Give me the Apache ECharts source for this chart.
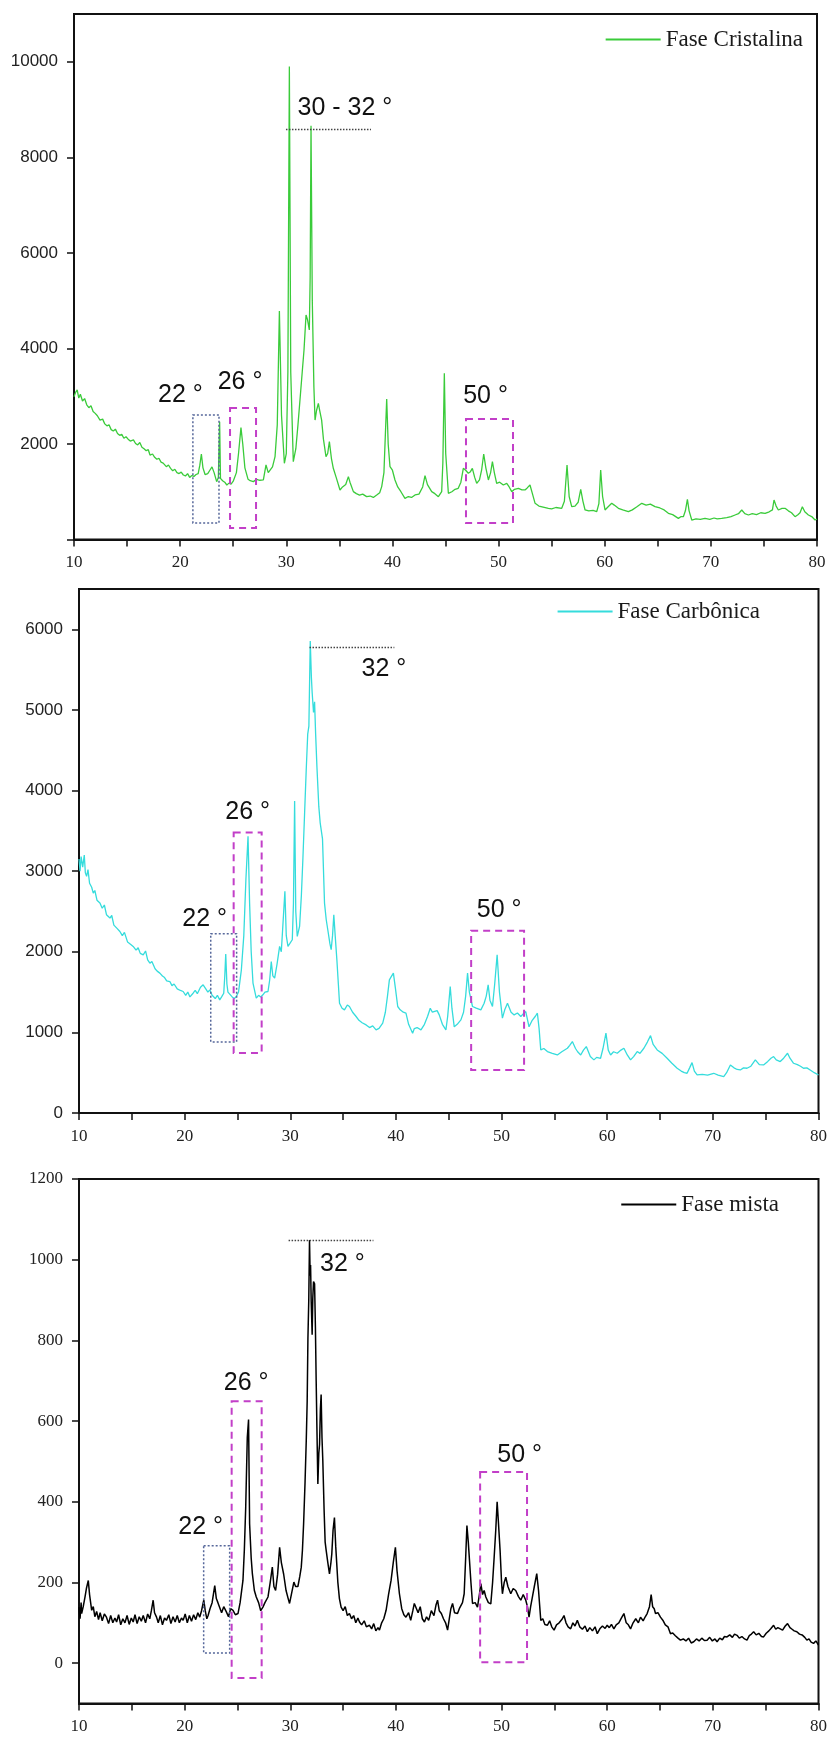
<!DOCTYPE html>
<html><head><meta charset="utf-8">
<script src="https://cdn.jsdelivr.net/npm/echarts@6/dist/echarts.min.js"></script>
<style>html,body{margin:0;padding:0;background:#fff}#c{width:830px;height:1738px}</style>
</head><body><div id="c"></div>
<script>
// ---------- data ----------
const seriesNames = ['Fase Cristalina', 'Fase Carbônica', 'Fase mista'];
const xTickValues = [10, 20, 30, 40, 50, 60, 70, 80];
const yTicks1 = [0, 2000, 4000, 6000, 8000, 10000];
const yLabels1 = [2000, 4000, 6000, 8000, 10000];
const yTicks2 = [0, 1000, 2000, 3000, 4000, 5000, 6000];
const yTicks3 = [0, 200, 400, 600, 800, 1000, 1200];

const cristalina = [
[10.0,2990],[10.15,3080],[10.3,3130],[10.45,2960],[10.6,3040],[10.8,2900],[11.0,2950],[11.2,2820],[11.4,2760],[11.6,2800],
[11.8,2680],[12.0,2640],[12.2,2590],[12.45,2500],[12.7,2520],[12.9,2420],[13.1,2380],[13.3,2400],[13.5,2300],[13.7,2270],
[13.9,2310],[14.1,2220],[14.3,2180],[14.5,2200],[14.7,2120],[14.9,2150],[15.1,2100],[15.3,2060],[15.6,2084],[15.8,2010],
[16.0,1980],[16.2,2030],[16.4,1930],[16.6,1900],[16.8,1860],[17.0,1880],[17.16,1768],[17.4,1790],[17.6,1720],[17.8,1680],
[18.0,1700],[18.2,1620],[18.4,1600],[18.7,1525],[18.9,1560],[19.1,1490],[19.3,1440],[19.5,1470],[19.7,1400],[19.9,1380],
[20.1,1410],[20.3,1350],[20.5,1330],[20.7,1380],[20.9,1300],[21.1,1340],[21.3,1320],[21.5,1360],[21.7,1380],[21.85,1550],
[22.0,1790],[22.15,1500],[22.35,1360],[22.6,1380],[22.8,1450],[23.0,1520],[23.2,1400],[23.44,1211],[23.6,1300],[23.72,2467],
[23.8,1280],[24.0,1230],[24.2,1200],[24.4,1141],[24.6,1180],[24.8,1160],[25.0,1220],[25.3,1400],[25.5,1800],[25.73,2342],
[25.9,2000],[26.1,1500],[26.4,1260],[26.6,1230],[26.9,1211],[27.2,1260],[27.5,1240],[27.84,1246],[28.09,1560],[28.3,1400],
[28.47,1386],[28.7,1520],[28.94,1735],[29.15,2400],[29.35,4785],[29.55,2600],[29.82,1595],[30.0,1800],[30.15,3500],[30.29,9900],
[30.42,3500],[30.66,1630],[30.9,1900],[31.1,2400],[31.29,2921],[31.5,3500],[31.67,3968],[31.86,4701],[32.0,4600],[32.08,4631],
[32.17,4387],[32.25,5500],[32.33,8660],[32.45,5000],[32.6,3200],[32.71,2500],[32.85,2700],[33.02,2851],[33.15,2700],[33.33,2500],
[33.5,2100],[33.74,1735],[33.9,1800],[34.06,2048],[34.25,1700],[34.43,1490],[34.7,1300],[35.06,1037],[35.3,1100],[35.6,1150],
[35.85,1316],[36.0,1200],[36.32,1002],[36.6,960],[36.9,930],[37.2,950],[37.57,897],[37.9,910],[38.2,880],[38.52,932],
[38.8,980],[38.99,1107],[39.2,1400],[39.46,2942],[39.6,2000],[39.77,1525],[40.0,1450],[40.24,1246],[40.5,1100],[40.8,1000],
[41.18,862],[41.5,900],[41.8,880],[42.13,932],[42.5,950],[42.85,1100],[43.07,1337],[43.3,1150],[43.7,1002],[44.0,960],
[44.33,897],[44.64,1002],[44.75,1600],[44.89,3480],[45.02,1800],[45.27,967],[45.6,1000],[45.9,1050],[46.2,1072],[46.45,1200],
[46.68,1490],[46.9,1450],[47.15,1386],[47.35,1420],[47.53,1490],[47.75,1300],[47.94,1176],[48.2,1250],[48.4,1450],[48.6,1790],
[48.8,1500],[49.04,1246],[49.25,1400],[49.42,1630],[49.6,1400],[49.82,1176],[50.1,1200],[50.45,1141],[50.77,1176],[51.0,1100],
[51.24,1002],[51.5,1050],[51.87,1072],[52.2,1040],[52.49,1037],[52.7,1080],[52.96,1141],[53.2,950],[53.44,757],[53.8,700],
[54.2,680],[54.69,652],[55.0,640],[55.4,670],[55.95,652],[56.2,800],[56.45,1560],[56.65,900],[56.89,687],[57.2,700],
[57.5,780],[57.74,1051],[57.95,800],[58.15,618],[58.5,600],[58.9,610],[59.25,583],[59.45,750],[59.62,1455],[59.8,900],
[60.03,618],[60.3,680],[60.66,757],[60.9,720],[61.29,652],[61.7,620],[62.23,583],[62.6,620],[63.0,680],[63.49,757],
[63.9,720],[64.3,740],[64.74,687],[65.2,660],[65.6,620],[66.0,548],[66.4,520],[66.94,443],[67.2,480],[67.41,478],
[67.6,600],[67.79,841],[67.95,600],[68.2,408],[68.6,430],[69.0,420],[69.45,443],[69.9,420],[70.3,450],[70.6,430],
[71.02,443],[71.5,460],[71.9,480],[72.28,513],[72.6,540],[72.91,618],[73.2,540],[73.54,513],[73.9,540],[74.3,520],
[74.7,560],[75.11,548],[75.5,580],[75.8,620],[75.95,827],[76.15,700],[76.36,618],[76.7,650],[76.99,652],[77.3,600],
[77.6,560],[77.93,478],[78.2,520],[78.4,560],[78.62,687],[78.85,580],[79.19,513],[79.5,480],[79.82,408],[80.0,430]
];

const carbonica = [
[10.0,3150],[10.1,3000],[10.2,3180],[10.35,3050],[10.5,3200],[10.6,2980],[10.72,2935],[10.85,3020],[11.0,2850],[11.2,2800],
[11.35,2728],[11.5,2760],[11.7,2640],[11.98,2604],[12.2,2540],[12.4,2580],[12.6,2460],[12.93,2418],[13.1,2450],[13.3,2330],
[13.6,2290],[13.87,2252],[14.1,2200],[14.3,2240],[14.6,2120],[14.9,2090],[15.13,2066],[15.4,2020],[15.6,2050],[15.8,1980],
[16.08,1962],[16.3,2010],[16.5,1900],[16.71,1859],[16.9,1880],[17.2,1790],[17.4,1760],[17.65,1735],[17.9,1700],[18.1,1680],
[18.3,1640],[18.6,1631],[18.8,1580],[19.0,1600],[19.3,1540],[19.6,1520],[19.86,1507],[20.1,1460],[20.3,1500],[20.5,1440],
[20.8,1486],[21.0,1520],[21.2,1480],[21.5,1560],[21.75,1590],[22.0,1540],[22.2,1500],[22.38,1528],[22.6,1460],[22.9,1420],
[23.1,1460],[23.32,1403],[23.5,1440],[23.7,1486],[23.8,1700],[23.89,1971],[24.0,1600],[24.1,1500],[24.27,1486],[24.5,1440],
[24.7,1420],[24.9,1445],[25.1,1500],[25.37,1776],[25.6,2200],[25.8,2900],[26.0,3432],[26.15,2600],[26.3,2000],[26.47,1610],
[26.78,1424],[27.0,1460],[27.2,1440],[27.41,1466],[27.6,1500],[27.89,1507],[28.05,1650],[28.2,1879],[28.35,1700],[28.52,1672],
[28.75,1850],[28.99,2066],[29.15,2000],[29.3,2024],[29.49,2749],[29.62,2200],[29.78,2066],[29.95,2100],[30.19,2149],[30.3,2600],
[30.41,3870],[30.52,2500],[30.66,2190],[30.88,2314],[31.05,2700],[31.19,3142],[31.35,3700],[31.51,4260],[31.65,4700],[31.76,4800],
[31.89,5854],[32.0,5400],[32.07,5216],[32.2,4968],[32.3,5100],[32.4,4700],[32.52,4300],[32.7,3800],[32.83,3600],[32.92,3618],
[33.05,3400],[33.24,2604],[33.4,2400],[33.55,2273],[33.75,2100],[33.87,2026],[34.0,2200],[34.12,2459],[34.25,2200],[34.41,1900],
[34.55,1600],[34.66,1362],[34.9,1300],[35.13,1279],[35.4,1340],[35.6,1321],[35.9,1250],[36.23,1197],[36.5,1150],[36.8,1120],
[37.18,1093],[37.5,1060],[37.8,1080],[38.12,1031],[38.4,1050],[38.75,1114],[39.0,1250],[39.2,1450],[39.38,1652],[39.6,1700],
[39.76,1735],[39.95,1550],[40.17,1321],[40.4,1280],[40.7,1250],[40.95,1238],[41.2,1100],[41.58,990],[41.74,1048],[42.0,1060],
[42.37,1031],[42.7,1100],[43.0,1200],[43.25,1300],[43.45,1250],[43.63,1238],[43.9,1270],[44.1,1217],[44.4,1100],[44.73,1031],
[44.9,1200],[45.14,1569],[45.3,1300],[45.52,1069],[45.8,1100],[46.15,1155],[46.4,1250],[46.6,1450],[46.78,1735],[46.95,1500],
[47.25,1321],[47.6,1300],[48.04,1279],[48.35,1362],[48.55,1450],[48.73,1590],[48.9,1400],[49.14,1321],[49.35,1600],[49.58,1962],
[49.8,1500],[50.08,1176],[50.3,1280],[50.56,1362],[50.9,1250],[51.19,1217],[51.5,1240],[51.82,1197],[52.05,1230],[52.29,1258],
[52.6,1069],[52.9,1150],[53.2,1200],[53.39,1238],[53.55,1050],[53.71,782],[54.0,800],[54.34,762],[54.8,740],[55.28,720],
[55.7,760],[56.23,803],[56.45,840],[56.7,886],[57.0,800],[57.2,760],[57.49,720],[57.75,780],[58.02,824],[58.4,700],
[58.74,659],[59.0,690],[59.37,679],[59.6,800],[59.88,990],[60.1,780],[60.32,720],[60.6,760],[60.95,741],[61.3,780],
[61.58,803],[61.9,720],[62.21,659],[62.5,700],[62.84,762],[63.1,740],[63.47,803],[63.8,880],[64.1,960],[64.35,850],
[64.73,782],[65.2,740],[65.67,679],[66.1,620],[66.62,555],[67.0,520],[67.3,500],[67.56,493],[67.8,560],[68.03,625],
[68.25,520],[68.51,472],[69.0,480],[69.5,470],[70.08,493],[70.5,470],[71.03,451],[71.3,500],[71.66,596],[72.0,560],
[72.3,540],[72.6,534],[72.9,560],[73.23,555],[73.6,580],[74.02,659],[74.4,600],[74.8,596],[75.2,640],[75.5,680],
[75.75,700],[76.0,660],[76.38,638],[76.7,680],[77.07,741],[77.3,680],[77.64,617],[78.0,600],[78.3,580],[78.58,555],
[78.9,560],[79.21,534],[79.6,500],[80.0,472]
];

const mista = [
[10.0,139],[10.1,110],[10.2,150],[10.25,123],[10.4,140],[10.57,164],[10.7,185],[10.88,205],[11.0,170],[11.2,131],
[11.35,140],[11.5,115],[11.67,128],[11.85,108],[12.0,125],[12.2,105],[12.4,122],[12.6,114],[12.8,98],[13.0,118],
[13.2,100],[13.4,112],[13.56,102],[13.75,120],[13.95,95],[14.15,110],[14.35,100],[14.55,118],[14.75,96],[14.95,112],
[15.13,102],[15.3,120],[15.5,98],[15.7,115],[15.9,104],[16.08,118],[16.3,100],[16.5,122],[16.7,110],[16.85,130],
[17.02,156],[17.15,125],[17.34,114],[17.5,100],[17.7,118],[17.9,95],[18.1,112],[18.28,106],[18.5,120],[18.7,98],
[18.9,115],[19.1,102],[19.3,118],[19.5,100],[19.7,112],[19.86,106],[20.05,122],[20.25,100],[20.45,118],[20.65,104],
[20.85,120],[21.05,108],[21.25,125],[21.43,114],[21.6,130],[21.81,156],[21.95,130],[22.1,110],[22.22,118],[22.4,135],
[22.6,150],[22.85,192],[23.0,160],[23.15,150],[23.32,148],[23.5,125],[23.7,140],[23.95,127],[24.15,115],[24.35,135],
[24.58,131],[24.8,120],[25.05,123],[25.25,150],[25.52,205],[25.65,280],[25.78,386],[25.93,559],[26.05,604],[26.15,345],
[26.3,260],[26.41,222],[26.6,180],[26.78,164],[27.0,150],[27.2,130],[27.41,139],[27.6,150],[27.89,164],[28.1,200],
[28.3,238],[28.45,190],[28.61,180],[28.8,220],[28.99,287],[29.15,250],[29.37,221],[29.6,180],[29.8,160],[29.93,148],
[30.1,170],[30.34,201],[30.5,190],[30.72,190],[30.9,215],[31.04,238],[31.15,280],[31.26,345],[31.4,450],[31.51,550],
[31.6,650],[31.67,806],[31.75,900],[31.82,1049],[31.88,960],[31.92,987],[31.98,896],[32.07,814],[32.13,904],[32.2,946],
[32.3,940],[32.38,830],[32.45,700],[32.52,584],[32.61,444],[32.7,520],[32.77,542],[32.85,630],[32.92,666],[33.0,560],
[33.08,501],[33.2,380],[33.3,300],[33.4,279],[33.55,250],[33.71,221],[33.85,250],[33.93,271],[34.05,330],[34.18,361],
[34.3,290],[34.5,201],[34.65,160],[34.81,139],[35.0,130],[35.2,140],[35.4,118],[35.6,123],[35.8,110],[36.0,118],
[36.2,100],[36.4,112],[36.55,102],[36.75,95],[37.0,105],[37.2,90],[37.49,94],[37.7,85],[37.9,98],[38.1,80],
[38.3,88],[38.44,82],[38.65,100],[38.85,110],[39.07,131],[39.3,170],[39.54,205],[39.75,250],[39.95,287],[40.1,230],
[40.33,172],[40.55,135],[40.75,120],[40.95,114],[41.2,125],[41.4,106],[41.6,130],[41.74,148],[41.9,152],[42.1,125],
[42.3,140],[42.5,110],[42.7,102],[42.9,115],[43.1,106],[43.35,130],[43.6,118],[43.8,145],[43.94,156],[44.1,130],
[44.3,123],[44.5,110],[44.7,100],[44.89,82],[45.05,110],[45.2,135],[45.36,148],[45.55,125],[45.83,123],[46.0,135],
[46.15,139],[46.3,150],[46.46,172],[46.6,260],[46.72,341],[46.85,300],[46.94,304],[47.1,200],[47.25,148],[47.5,150],
[47.72,139],[47.9,170],[48.04,197],[48.2,170],[48.35,180],[48.51,164],[48.75,150],[48.98,147],[49.15,200],[49.3,263],
[49.45,330],[49.58,400],[49.7,350],[49.86,279],[50.0,200],[50.08,172],[50.25,200],[50.4,213],[50.6,190],[50.87,172],
[51.1,185],[51.34,180],[51.6,165],[51.82,156],[52.05,170],[52.29,156],[52.45,140],[52.6,114],[52.75,140],[52.92,164],
[53.1,190],[53.33,222],[53.5,180],[53.71,106],[53.9,110],[54.1,96],[54.34,94],[54.55,105],[54.75,90],[54.97,82],
[55.2,95],[55.45,100],[55.7,108],[55.91,118],[56.1,100],[56.3,90],[56.54,85],[56.75,100],[56.95,92],[57.17,106],
[57.4,90],[57.65,84],[57.9,92],[58.12,78],[58.35,88],[58.6,80],[58.85,90],[59.06,73],[59.3,85],[59.55,92],
[59.8,86],[60.0,94],[60.2,88],[60.4,96],[60.63,85],[60.85,95],[61.1,100],[61.35,112],[61.58,123],[61.8,100],
[62.0,95],[62.21,85],[62.45,100],[62.7,110],[62.95,100],[63.15,114],[63.4,105],[63.6,115],[63.78,123],[64.0,140],
[64.16,170],[64.3,140],[64.45,135],[64.57,123],[64.8,125],[65.04,114],[65.3,105],[65.5,95],[65.75,90],[65.99,73],
[66.2,75],[66.45,68],[66.7,62],[66.93,57],[67.2,60],[67.45,55],[67.7,62],[67.95,50],[68.19,53],[68.45,60],
[68.7,55],[68.95,62],[69.2,56],[69.45,57],[69.7,64],[69.95,55],[70.2,60],[70.4,53],[70.65,62],[70.9,58],
[71.1,66],[71.34,65],[71.6,70],[71.85,64],[72.05,72],[72.29,69],[72.5,62],[72.75,66],[73.0,60],[73.23,57],
[73.45,68],[73.65,72],[73.86,78],[74.1,70],[74.35,74],[74.6,66],[74.8,65],[75.05,74],[75.3,80],[75.5,86],
[75.75,94],[75.95,84],[76.15,88],[76.38,85],[76.6,82],[76.85,92],[77.07,98],[77.3,88],[77.5,84],[77.7,80],
[77.95,78],[78.2,72],[78.45,70],[78.7,64],[78.9,57],[79.1,60],[79.3,52],[79.53,49],[79.75,55],[80.0,45]
];

// annotation boxes: [xFrom, xTo, yFrom, yTo]
const boxes1 = { b22: [21.2, 23.66, 345, 2607], b26: [24.7, 27.15, 241, 2754], b50: [46.93, 51.36, 345, 2524] };
const boxes2 = { b22: [22.47, 24.92, 882, 2224], b26: [24.64, 27.29, 745, 3478], b50: [47.12, 52.13, 534, 2261] };
const boxes3 = { b22: [21.8, 24.26, 25, 291], b26: [24.45, 27.29, -37, 649], b50: [47.97, 52.41, 2, 474] };
// annotation labels: [text, x, y]
const labels1 = [['22 °', 20.03, 3026], ['26 °', 25.64, 3298], ['50 °', 48.77, 3005], ['30 - 32 °', 35.53, 9036]];
const labels2 = [['22 °', 21.9, 2410], ['26 °', 25.96, 3738], ['50 °', 49.77, 2521], ['32 °', 38.86, 5502]];
const labels3 = [['22 °', 21.52, 336], ['26 °', 25.82, 694], ['50 °', 51.71, 516], ['32 °', 34.94, 990]];
// peak guide lines: [xFrom, xTo, y]
const peak1 = [29.97, 37.98, 8597];
const peak2 = [31.82, 39.85, 5776];
const peak3 = [29.84, 37.87, 1049];

// ---------- chart ----------
const SERIF = 'Liberation Serif, Times New Roman, serif';
const SANS = 'Liberation Sans, Arial, sans-serif';
const colors = ['#3acb3a', '#35dcdc', '#000000'];
const grids = [
  { left: 74, top: 14, width: 743, height: 525.5 },
  { left: 79, top: 589, width: 741, height: 524 },
  { left: 79, top: 1179, width: 741, height: 524.5 }
];
const yRanges = [[0, 11000], [0, 6500], [-100, 1200]];
const yTickSets = [yTicks1, yTicks2, yTicks3];
const yLabelSets = [yLabels1, yTicks2, yTicks3];
const yFonts = [SANS, SANS, SERIF];
const legendTops = [28, 600, 1193];
const legendRights = [27, 70, 51];
const datasets = [cristalina, carbonica, mista];
const boxSets = [boxes1, boxes2, boxes3];
const labelSets = [labels1, labels2, labels3];
const peaks = [peak1, peak2, peak3];

const MAG = { color: 'rgba(0,0,0,0)', borderColor: '#c23fc8', borderWidth: 2, borderType: [7, 5] };
const BLU = { color: 'rgba(0,0,0,0)', borderColor: '#56679a', borderWidth: 1.5, borderType: [2, 2] };

function boxItem(b, style) {
  return [{ coord: [b[0], b[3]], itemStyle: style }, { coord: [b[1], b[2]] }];
}

const option = {
  animation: false,
  backgroundColor: '#fff',
  grid: grids.map(g => Object.assign({ show: true, borderColor: '#111', borderWidth: 2, backgroundColor: 'transparent', containLabel: false }, g)),
  legend: seriesNames.map((n, i) => ({
    data: [n], top: legendTops[i], right: legendRights[i], padding: 0,
    icon: 'rect', itemWidth: 55, itemHeight: 2, itemGap: 0,
    textStyle: { fontFamily: SERIF, fontSize: 23, color: '#1a1a1a', padding: [0, 0, 0, 0] }
  })),
  xAxis: grids.map((g, i) => ({
    type: 'value', gridIndex: i, min: 10, max: 80, interval: 10,
    axisLine: { show: true, onZero: false, lineStyle: { color: '#111', width: 2 } },
    axisTick: { show: true, inside: false, length: 7, lineStyle: { color: '#111', width: 1.5 } },
    minorTick: { show: true, splitNumber: 2, length: 7, lineStyle: { color: '#111', width: 1.5 } },
    splitLine: { show: false },
    axisLabel: { fontFamily: SERIF, fontSize: 17, color: '#222', margin: 15,
      customValues: xTickValues, formatter: v => String(v) }
  })),
  yAxis: grids.map((g, i) => ({
    type: 'value', gridIndex: i, min: yRanges[i][0], max: yRanges[i][1],
    axisLine: { show: true, onZero: false, lineStyle: { color: '#111', width: 2 } },
    axisTick: { show: true, inside: false, length: 7, lineStyle: { color: '#111', width: 1.5 }, customValues: yTickSets[i] },
    splitLine: { show: false },
    axisLabel: { fontFamily: yFonts[i], fontSize: 17, color: '#222', margin: 16,
      customValues: yLabelSets[i], formatter: v => String(v) }
  })),
  series: datasets.map((d, i) => ({
    name: seriesNames[i], type: 'line', xAxisIndex: i, yAxisIndex: i,
    data: d, symbol: 'none', showSymbol: false, sampling: null,
    lineStyle: { color: colors[i], width: i === 2 ? 1.5 : 1.3 },
    itemStyle: { color: colors[i] },
    markArea: {
      silent: true, z: 5,
      label: { show: false },
      data: [boxItem(boxSets[i].b22, BLU), boxItem(boxSets[i].b26, MAG), boxItem(boxSets[i].b50, MAG)]
    },
    markLine: {
      silent: true, symbol: ['none', 'none'],
      label: { show: false },
      lineStyle: { color: '#444', type: [1.5, 1.5], width: 1.3 },
      data: [[{ coord: [peaks[i][0], peaks[i][2]] }, { coord: [peaks[i][1], peaks[i][2]] }]]
    },
    markPoint: {
      silent: true, symbol: 'rect', symbolSize: 1,
      itemStyle: { color: 'rgba(0,0,0,0)' },
      label: { show: true, position: 'inside', formatter: '{b}', fontFamily: SANS, fontSize: 25, color: '#111' },
      data: labelSets[i].map(l => ({ name: l[0], coord: [l[1], l[2]] }))
    }
  }))
};

const chart = echarts.init(document.getElementById('c'), null, { renderer: 'canvas' });
chart.setOption(option);
</script>
</body></html>
